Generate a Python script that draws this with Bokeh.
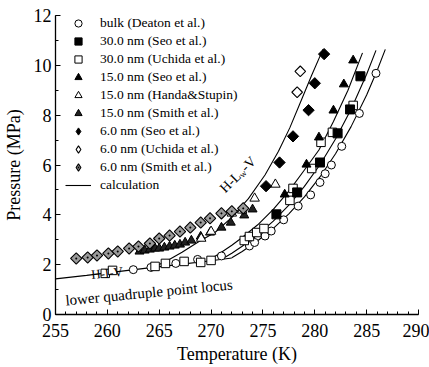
import numpy as np
from bokeh.plotting import figure
from bokeh.models import Range1d, FixedTicker, Legend, LegendItem, Label
from bokeh.embed import file_html
from bokeh.resources import INLINE

# ---------------- data ----------------
bulk_T = [262.5, 264.2, 266.6, 268.7, 271.0, 273.7, 274.2, 275.2, 275.8, 277.0, 278.4, 279.6, 280.5, 281.0, 281.6, 282.6, 284.3, 285.9]
bulk_P = [1.80, 1.89, 2.05, 2.21, 2.35, 2.75, 2.89, 3.15, 3.35, 3.80, 4.35, 4.80, 5.30, 5.65, 6.00, 6.75, 8.07, 9.68]

seo30_T = [276.3, 278.3, 280.5, 282.2, 283.4, 284.4]
seo30_P = [4.02, 4.90, 6.10, 7.27, 8.23, 9.56]

uch30_T = [259.8, 260.5, 264.6, 265.6, 267.4, 269.0, 270.0, 273.2, 273.7, 274.4, 275.1, 277.6, 277.9, 279.7, 280.6, 281.7, 283.7]
uch30_P = [1.65, 1.77, 1.93, 2.05, 2.13, 2.09, 2.17, 2.97, 3.13, 3.29, 3.45, 4.58, 5.06, 5.86, 6.91, 7.31, 8.39]

seo15_T = [277.1, 279.2, 280.4, 281.8, 282.8, 283.7]
seo15_P = [4.82, 6.02, 7.11, 8.19, 9.24, 10.20]

handa15_T = [269.05, 270.0, 272.0, 273.0, 274.2, 276.2]
handa15_P = [3.05, 3.33, 4.06, 4.18, 4.66, 5.22]

smith15_T = [263.1, 263.6, 264.1, 264.6, 265.0, 265.5, 266.0, 266.5, 267.0, 267.5, 268.1, 269.0, 269.9, 271.0, 271.9, 273.2, 274.0]
smith15_P = [2.53, 2.57, 2.61, 2.65, 2.65, 2.69, 2.73, 2.77, 2.81, 2.89, 2.97, 3.13, 3.29, 3.49, 3.69, 3.98, 4.22]

seo6_T = [275.3, 276.6, 277.9, 279.4, 280.0, 280.9]
seo6_P = [5.15, 6.10, 7.15, 8.20, 9.28, 10.45]

uch6_T = [278.3, 278.6]
uch6_P = [8.92, 9.76]

smith6_T = [257.0, 258.1, 259.0, 260.1, 261.0, 262.1, 263.0, 264.1, 265.0, 266.0, 267.0, 268.0, 269.0, 269.9, 271.0, 272.0, 273.1]
smith6_P = [2.25, 2.29, 2.37, 2.45, 2.53, 2.65, 2.73, 2.85, 3.05, 3.17, 3.33, 3.49, 3.69, 3.86, 4.06, 4.14, 4.26]

# calculation curves
locus_T = [255.0, 258.0, 261.0, 264.0, 267.0, 270.0, 272.0]
locus_P = [1.43, 1.57, 1.72, 1.87, 2.01, 2.16, 2.27]

calc6_T = [264.4, 265.8, 267.2, 268.8, 270.4, 272.0, 273.6, 275.2, 276.5, 277.6, 278.7, 279.7, 280.8]
calc6_P = [1.89, 2.17, 2.50, 2.92, 3.30, 3.90, 4.65, 5.60, 6.55, 7.50, 8.60, 9.60, 10.65]

calc15_T = [269.7, 271.0, 272.0, 273.0, 274.5, 276.0, 277.5, 279.0, 280.4, 281.8, 283.2, 284.6]
calc15_P = [2.16, 2.50, 2.78, 3.09, 3.60, 4.22, 4.95, 5.80, 6.60, 7.75, 9.00, 10.50]

calc30_T = [271.1, 272.0, 273.0, 274.5, 276.0, 277.5, 279.0, 280.5, 282.0, 283.5, 285.0, 285.9]
calc30_P = [2.24, 2.46, 2.74, 3.20, 3.75, 4.39, 5.14, 6.01, 7.04, 8.24, 9.64, 10.60]

calcb_T = [272.0, 273.0, 274.5, 276.0, 277.5, 279.0, 280.5, 282.0, 283.5, 285.0, 286.0, 286.8]
calcb_P = [2.28, 2.53, 2.96, 3.46, 4.04, 4.72, 5.52, 6.45, 7.54, 8.81, 9.78, 10.64]

x_ticks = [255, 260, 265, 270, 275, 280, 285, 290]
y_ticks = [0, 2, 4, 6, 8, 10, 12]

legend_labels = ["bulk (Deaton et al.)", "30.0 nm (Seo et al.)", "30.0 nm (Uchida et al.)",
                 "15.0 nm (Seo et al.)", "15.0 nm (Handa&Stupin)", "15.0 nm (Smith et al.)",
                 "6.0 nm (Seo et al.)", "6.0 nm (Uchida et al.)", "6.0 nm (Smith et al.)",
                 "calculation"]

FONT = "Liberation Serif"

p = figure(width=429, height=367, output_backend="svg", toolbar_location=None,
           x_range=Range1d(255, 290), y_range=Range1d(0, 12),
           min_border_left=52, min_border_right=11, min_border_top=15, min_border_bottom=53)
p.grid.visible = False
p.outline_line_color = None
p.background_fill_color = "white"
p.border_fill_color = "white"

for ax in (p.xaxis[0], p.yaxis[0]):
    ax.axis_line_color = "black"
    ax.axis_line_width = 1.3
    ax.major_tick_line_color = "black"
    ax.minor_tick_line_color = "black"
    ax.major_tick_in = 5
    ax.major_tick_out = 0
    ax.minor_tick_in = 3
    ax.minor_tick_out = 0
    ax.major_label_text_font = FONT
    ax.major_label_text_font_size = "18px"
    ax.major_label_text_color = "black"
    ax.axis_label_text_font = FONT
    ax.axis_label_text_font_size = "18px"
    ax.axis_label_text_font_style = "normal"
    ax.axis_label_text_color = "black"

p.xaxis[0].ticker = FixedTicker(ticks=x_ticks, minor_ticks=list(range(255, 291)))
p.yaxis[0].ticker = FixedTicker(ticks=y_ticks, minor_ticks=list(range(0, 13)))
p.xaxis[0].major_label_standoff = 9
p.xaxis[0].axis_label_standoff = 4
p.yaxis[0].major_label_standoff = 4
p.yaxis[0].axis_label_standoff = 7
p.xaxis.axis_label = "Temperature (K)"
p.yaxis.axis_label = "Pressure (MPa)"

# calculation curves
lw = 1.1
r_calc = p.line(locus_T, locus_P, line_color="black", line_width=lw)
p.line(calc6_T, calc6_P, line_color="black", line_width=lw)
p.line(calc15_T, calc15_P, line_color="black", line_width=lw)
p.line(calc30_T, calc30_P, line_color="black", line_width=lw)
p.line(calcb_T, calcb_P, line_color="black", line_width=lw)

D = np.pi / 4
r_bulk = p.scatter(bulk_T, bulk_P, marker="circle", size=8, fill_color="white", line_color="black", line_width=1)
r_uch30 = p.scatter(uch30_T, uch30_P, marker="square", size=8.5, fill_color="white", line_color="black", line_width=1)
r_seo30 = p.scatter(seo30_T, seo30_P, marker="square", size=9, fill_color="black", line_color="black")
r_smith15 = p.scatter(smith15_T, smith15_P, marker="triangle", size=9, fill_color="#222222", line_color="black")
r_handa15 = p.scatter(handa15_T, handa15_P, marker="triangle", size=9.5, fill_color="white", line_color="black", line_width=1)
r_seo15 = p.scatter(seo15_T, seo15_P, marker="triangle", size=9, fill_color="black", line_color="black")
p.scatter(smith6_T, smith6_P, marker="square_dot", size=8, angle=D, fill_color="#9a9a9a", line_color="black", line_width=1.1)
p.scatter(uch6_T, uch6_P, marker="square", size=7.5, angle=D, fill_color="white", line_color="black", line_width=1.1)
p.scatter(seo6_T, seo6_P, marker="square", size=8, angle=D, fill_color="black", line_color="black")

# hidden legend-only diamond glyphs (the legend ignores marker rotation)
lg_seo6 = p.scatter(seo6_T, seo6_P, marker="diamond", fill_color="black", line_color="black", visible=False)
lg_uch6 = p.scatter(uch6_T, uch6_P, marker="diamond", fill_color="white", line_color="black", line_width=1.1, visible=False)
lg_smith6 = p.scatter(smith6_T, smith6_P, marker="diamond_dot", fill_color="#9a9a9a", line_color="black", line_width=1.1, visible=False)

renderers = [r_bulk, r_seo30, r_uch30, r_seo15, r_handa15, r_smith15, lg_seo6, lg_uch6, lg_smith6, r_calc]
items = [LegendItem(label=lab, renderers=[r]) for lab, r in zip(legend_labels, renderers)]
legend = Legend(items=items, location=(10, 120), orientation="vertical",
                glyph_width=26, glyph_height=18, label_height=18, spacing=0,
                label_standoff=9, padding=0, margin=0,
                label_text_font=FONT, label_text_font_size="13.5px", label_text_color="black",
                background_fill_alpha=0, border_line_alpha=0,
                inactive_fill_alpha=0)
p.add_layout(legend, "center")

# annotations
def lab(text, x, y, size, angle=0, xo=0, yo=0):
    p.add_layout(Label(x=x, y=y, text=text, x_offset=xo, y_offset=yo, angle=angle, angle_units="deg",
                       text_font=FONT, text_font_size=size, text_color="black",
                       text_align="left", text_baseline="alphabetic"))

lab("lower quadruple point locus", 255.96, 0.56, "15px", angle=5.5)
lab("H-I-V", 258.44, 1.60, "13px", angle=6)
lab("H-L", 271.06, 4.98, "14px", angle=45)
lab("w", 271.06, 4.98, "9px", angle=45, xo=18.6, yo=14.4)
lab("-V", 271.06, 4.98, "14px", angle=45, xo=21.1, yo=21.1)

open("out.html", "w").write(file_html(p, INLINE))
